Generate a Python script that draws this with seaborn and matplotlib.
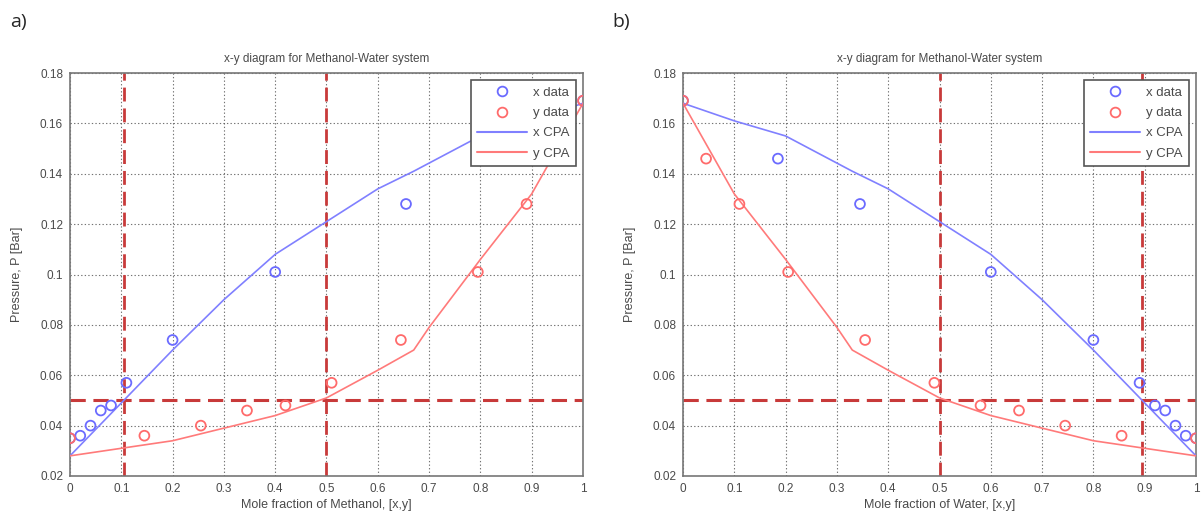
import numpy as np
import pandas as pd
import seaborn as sns
import matplotlib.pyplot as plt
from matplotlib.lines import Line2D

# Experimental data (methanol mole fractions) and pressures
p_data = [0.035, 0.036, 0.040, 0.046, 0.048, 0.057, 0.074, 0.101, 0.128, 0.146, 0.169]
x_meoh = [0.0, 0.02, 0.04, 0.06, 0.08, 0.11, 0.20, 0.40, 0.655, 0.815, 1.0]
y_meoh = [0.0, 0.145, 0.255, 0.345, 0.42, 0.51, 0.645, 0.795, 0.89, 0.955, 1.0]

# CPA model curves (methanol mole fraction, pressure)
xcpa_comp = [0.0, 0.1, 0.2, 0.3, 0.4, 0.5, 0.6, 0.67, 0.8, 0.9, 1.0]
xcpa_p = [0.028, 0.049, 0.070, 0.090, 0.108, 0.121, 0.134, 0.141, 0.155, 0.161, 0.168]
ycpa_comp = [0.0, 0.1, 0.2, 0.3, 0.4, 0.5, 0.6, 0.67, 0.7, 0.8, 0.9, 0.95, 1.0]
ycpa_p = [0.028, 0.031, 0.034, 0.039, 0.044, 0.051, 0.062, 0.070, 0.079, 0.106, 0.132, 0.150, 0.168]

# Reference lines
p_ref = 0.05
vlines_a = [0.105, 0.5]
vlines_b = [0.5, 0.895]

sns.set_style('white')
plt.rcParams['font.family'] = ['Liberation Sans', 'DejaVu Sans']

blue = '#6b6bff'
red = '#ff6b6b'
dash_red = '#c83a3a'
txt = '#4a4a4a'

fig = plt.figure(figsize=(12.01, 5.2), dpi=100)
ax_a = fig.add_axes([70 / 1201, 1 - 476 / 520, 513 / 1201, 403 / 520])
ax_b = fig.add_axes([683 / 1201, 1 - 476 / 520, 513 / 1201, 403 / 520])


def draw(ax, comp_x, comp_y, xc, yc, vlines, component):
    for v in vlines:
        ax.axvline(v, color=dash_red, lw=2, dashes=(5, 2.5), zorder=2)
    ax.axhline(p_ref, color=dash_red, lw=2.2, dashes=(5, 2.5), zorder=2)
    sns.lineplot(x=xc, y=xcpa_p, ax=ax, color='#8080ff', lw=1.2, sort=False, zorder=3)
    sns.lineplot(x=yc, y=ycpa_p, ax=ax, color='#ff7a7a', lw=1.2, sort=False, zorder=3)
    sns.scatterplot(x=comp_x, y=p_data, ax=ax, marker='o', s=50, facecolor='none',
                    edgecolor=blue, linewidth=1.3, zorder=4)
    sns.scatterplot(x=comp_y, y=p_data, ax=ax, marker='o', s=50, facecolor='none',
                    edgecolor=red, linewidth=1.3, zorder=4)
    ax.set_xlim(0, 1)
    ax.set_ylim(0.02, 0.18)
    ax.set_xticks(np.arange(0, 1.01, 0.1))
    ax.set_yticks(np.arange(0.02, 0.181, 0.02))
    ax.set_xticklabels(['0', '0.1', '0.2', '0.3', '0.4', '0.5', '0.6', '0.7', '0.8', '0.9', '1'])
    ax.set_yticklabels(['0.02', '0.04', '0.06', '0.08', '0.1', '0.12', '0.14', '0.16', '0.18'])
    ax.grid(True, color='#444444', ls=(0, (1.2, 2)), lw=0.8, alpha=0.75)
    ax.tick_params(direction='in', length=3, labelsize=8.5, labelcolor=txt, color='#555555',
                   pad=5)
    for s in ax.spines.values():
        s.set_color('#777777')
        s.set_linewidth(1.2)
    ax.set_title('x-y diagram for Methanol-Water system', fontsize=8.5, color=txt, pad=8)
    ax.set_xlabel(f'Mole fraction of {component}, [x,y]', fontsize=9, color=txt, labelpad=3)
    ax.set_ylabel('Pressure, P [Bar]', fontsize=9, color=txt, labelpad=12)
    handles = [
        Line2D([], [], ls='none', marker='o', mfc='none', mec=blue, mew=1.3, ms=7),
        Line2D([], [], ls='none', marker='o', mfc='none', mec=red, mew=1.3, ms=7),
        Line2D([], [], color='#8080ff', lw=1.5),
        Line2D([], [], color='#ff7a7a', lw=1.5),
    ]
    leg = ax.legend(handles, ['x data', 'y data', 'x CPA', 'y CPA'], loc='upper right',
                    fontsize=9.5, fancybox=False, framealpha=1, edgecolor='#555555',
                    borderaxespad=0.55, handlelength=3.8, labelspacing=0.6,
                    handletextpad=0.4, borderpad=0.5)
    for t in leg.get_texts():
        t.set_color(txt)
    leg.get_frame().set_linewidth(1.2)


draw(ax_a, x_meoh, y_meoh, xcpa_comp, ycpa_comp, vlines_a, 'Methanol')
water_x = [1 - v for v in x_meoh]
water_y = [1 - v for v in y_meoh]
draw(ax_b, water_x, water_y, [1 - v for v in xcpa_comp], [1 - v for v in ycpa_comp],
     vlines_b, 'Water')

fig.text(10 / 1201, 1 - 22 / 520, 'a)', fontsize=14, family='Open Sans', va='center')
fig.text(612 / 1201, 1 - 22 / 520, 'b)', fontsize=14, family='Open Sans', va='center')

fig.savefig('out.png', dpi=100)
